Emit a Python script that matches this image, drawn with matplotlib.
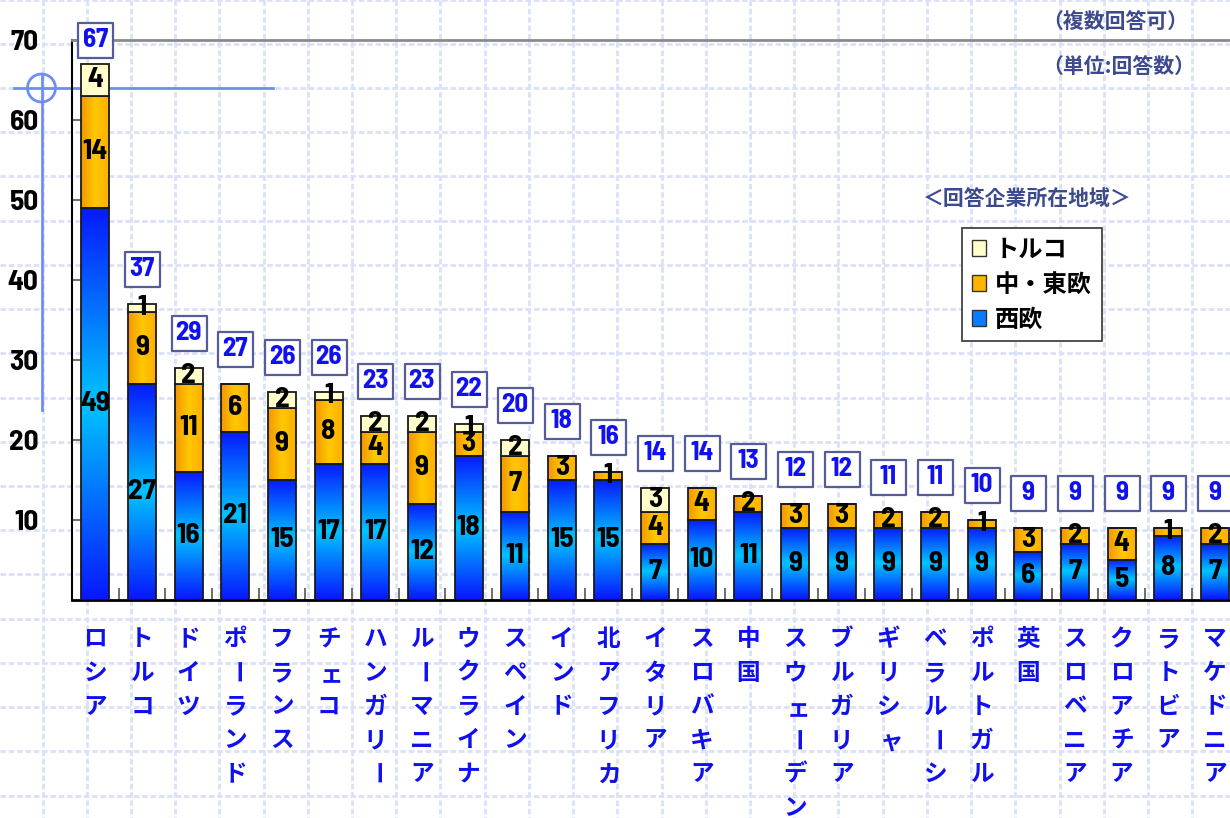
import numpy as np
import matplotlib
matplotlib.use("Agg")
import matplotlib.pyplot as plt
from matplotlib.colors import LinearSegmentedColormap
from matplotlib.patches import Patch, Circle
import matplotlib.transforms as mtransforms
import logging
logging.getLogger("matplotlib.font_manager").setLevel(logging.ERROR)

# ---------------- data ----------------
categories = ["ロシア", "トルコ", "ドイツ", "ポーランド", "フランス", "チェコ", "ハンガリー",
              "ルーマニア", "ウクライナ", "スペイン", "インド", "北アフリカ", "イタリア",
              "スロバキア", "中国", "スウェーデン", "ブルガリア", "ギリシャ", "ベラルーシ",
              "ポルトガル", "英国", "スロベニア", "クロアチア", "ラトビア", "マケドニア"]
west_europe = [49, 27, 16, 21, 15, 17, 17, 12, 18, 11, 15, 15, 7, 10, 11, 9, 9, 9, 9, 9, 6, 7, 5, 8, 7]
central_east = [14, 9, 11, 6, 9, 8, 4, 9, 3, 7, 3, 1, 4, 4, 2, 3, 3, 2, 2, 1, 3, 2, 4, 1, 2]
turkey = [4, 1, 2, 0, 2, 1, 2, 2, 1, 2, 0, 0, 3, 0, 0, 0, 0, 0, 0, 0, 0, 0, 0, 0, 0]
series_names = ["西欧", "中・東欧", "トルコ"]
y_ticks = [10, 20, 30, 40, 50, 60, 70]

W, H = 1230, 818
fig = plt.figure(figsize=(W / 100, H / 100), dpi=100)

CJK = ["Noto Sans CJK JP", "DejaVu Sans"]
NUM = ["Barlow Semi Condensed", "Barlow Condensed", "DejaVu Sans"]
NAVY = "#3d4a8e"

# ---------------- background (graph paper + decoration) ----------------
bg = fig.add_axes([0, 0, 1, 1], zorder=0)
bg.set_xlim(0, W)
bg.set_ylim(H, 0)
bg.axis("off")
step = 44.22
for k in range(-1, 30):
    xx = 42.5 + step * k
    bg.plot([xx, xx], [0, H], color="#dbe1f8", lw=2, ls=(0, (2, 1)), zorder=0)
for k in range(-2, 20):
    yy = 88 + step * k
    bg.plot([0, W], [yy, yy], color="#dbe1f8", lw=2, ls=(0, (2, 1)), zorder=0)
# crosshair decoration
bg.plot([14, 273], [88, 88], color="#6f8ef2", lw=2, zorder=1)
bg.plot([41.5, 41.5], [74, 410], color="#6f8ef2", lw=2, zorder=1)
bg.add_patch(Circle((41.5, 88), 14, fill=False, edgecolor="#6f8ef2", lw=2, zorder=1))

# ---------------- main axes ----------------
x0, y0 = 72, 599.5
slot = 46.65
ax = fig.add_axes([x0 / W, (H - y0) / H, 25 * slot / W, 560 / H], zorder=2)
ax.patch.set_alpha(0)

x = np.arange(len(categories))
west = np.array(west_europe)
ce = np.array(central_east)
tk = np.array(turkey)
bw = 0.6

blue_cmap = LinearSegmentedColormap.from_list("b", ["#0818ff", "#00c4ff", "#0818ff"])
orange_cmap = LinearSegmentedColormap.from_list("o", ["#f39600", "#ffc800", "#ffae00"])


def gradient_fill(patch, cmap, vertical):
    px, py = patch.get_x(), patch.get_y()
    pw, ph = patch.get_width(), patch.get_height()
    if ph <= 0:
        return
    g = np.linspace(0, 1, 256)
    arr = g.reshape(-1, 1) if vertical else g.reshape(1, -1)
    im = ax.imshow(arr, cmap=cmap, extent=[px, px + pw, py, py + ph], origin="lower",
                   aspect="auto", interpolation="bilinear", zorder=2)
    im.set_clip_path(patch)


b1 = ax.bar(x, west, bw, facecolor="none", edgecolor="#1a1a1a", lw=1.3, zorder=3)
b2 = ax.bar(x, ce, bw, bottom=west, facecolor="none", edgecolor="#1a1a1a", lw=1.3, zorder=3)
b3 = ax.bar(x, tk, bw, bottom=west + ce, facecolor="#ffffcc", edgecolor="#1a1a1a", lw=1.3, zorder=3)
for p in b1:
    gradient_fill(p, blue_cmap, True)
for p in b2:
    gradient_fill(p, orange_cmap, False)

# segment value labels
for vals, bottoms in [(west, np.zeros_like(west)), (ce, west), (tk, west + ce)]:
    for i, (v, b) in enumerate(zip(vals, bottoms)):
        if v > 0:
            ax.text(i, b + v / 2, str(v), ha="center", va="center", fontsize=21,
                    fontweight="bold", family=NUM, color="black", zorder=5)

# totals in boxes
totals = west + ce + tk
label_y = np.minimum(totals + 4.3, 69.9)
ax.scatter(x, label_y, marker="s", s=(35 * 0.72) ** 2, facecolor="white",
           edgecolor="#545c9c", linewidths=1.6, zorder=4, clip_on=False)
for i, (t, ly) in enumerate(zip(totals, label_y)):
    ax.text(i, ly, str(t), ha="center", va="center", fontsize=19.5, fontweight="bold",
            family=NUM, color="#1010f0", zorder=5, clip_on=False)

ax.set_xlim(-0.5, len(categories) - 0.5)
ax.set_ylim(0, 70)

# axes styling
ax.spines["left"].set_color("black")
ax.spines["left"].set_linewidth(1.5)
ax.spines["bottom"].set_color("black")
ax.spines["bottom"].set_linewidth(2)
ax.spines["top"].set_color("#8a8a8a")
ax.spines["top"].set_linewidth(2)
ax.spines["right"].set_visible(False)

ax.set_yticks(y_ticks)
ax.set_yticklabels([str(v) for v in y_ticks], fontsize=21, fontweight="bold", family=NUM)
ax.tick_params(axis="y", direction="in", length=8, width=1.2, color="#555555", pad=24)
ax.set_xticks(x + 0.5, minor=True)
ax.set_xticks([])
ax.tick_params(axis="x", which="minor", direction="in", length=9, width=1.2, color="#555555")

# vertical category labels (one character per line, like vertical writing)
small = set("ェャュョァィゥォッ")
for i, name in enumerate(categories):
    for j, ch in enumerate(name):
        py = 639 + 33.8 * j
        tr = ax.get_xaxis_transform()
        rot = 0
        if ch in small:
            tr = tr + mtransforms.ScaledTranslation(3 / 100, -2 / 100, fig.dpi_scale_trans)
        if ch == "ー":
            rot = -90
        ax.text(i, (y0 - py) / 560, ch, ha="center", va="center", fontsize=17,
                rotation=rot, rotation_mode="anchor",
                fontweight="bold", family=CJK, color="#1010ee", transform=tr, clip_on=False)

# legend
handles = [Patch(facecolor="#ffffcc", edgecolor="#333333"),
           Patch(facecolor="#ffb400", edgecolor="#333333"),
           Patch(facecolor="#0a7cff", edgecolor="#333333")]
leg = ax.legend(handles, [series_names[2], series_names[1], series_names[0]],
                loc="upper left", bbox_to_anchor=(962 / W, 1 - 228 / H),
                bbox_transform=fig.transFigure, frameon=True, fancybox=False,
                edgecolor="#333333", framealpha=1, borderaxespad=0,
                prop={"family": CJK, "weight": "bold", "size": 17.5},
                handlelength=0.6, handleheight=0.6, handletextpad=0.35,
                labelspacing=0.45, borderpad=0.4)
leg.get_frame().set_linewidth(1.2)
leg.set_zorder(6)

# annotations
fig.text(1027 / W, 1 - 198 / H, "＜回答企業所在地域＞", ha="center", va="center",
         fontsize=15, fontweight="bold", family=CJK, color=NAVY)
fig.text(1042 / W, 1 - 22 / H, "（複数回答可）", ha="left", va="center",
         fontsize=15, fontweight="bold", family=CJK, color=NAVY)
fig.text(1042 / W, 1 - 67 / H, "（単位:回答数）", ha="left", va="center",
         fontsize=15, fontweight="bold", family=CJK, color=NAVY)

fig.savefig("out.png", dpi=100)
